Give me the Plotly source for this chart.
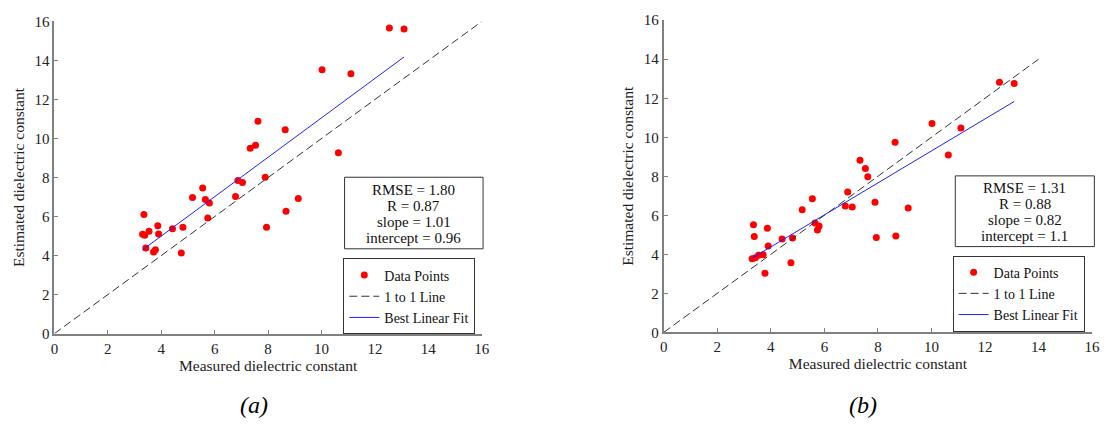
import plotly.graph_objects as go

# Measured dielectric constant (shared by both panels)
measured = [3.30, 3.35, 3.38, 3.42, 3.54, 3.71, 3.78, 3.87, 3.90, 4.42, 4.75,
            4.81, 5.17, 5.55, 5.65, 5.74, 5.80, 6.78, 6.87, 7.04, 7.33, 7.53,
            7.62, 7.89, 7.94, 8.64, 8.67, 9.13, 10.02, 10.63, 11.10, 12.54, 13.09]

# Estimated dielectric constant, panel (a)
estimated_a = [5.09, 6.11, 5.04, 4.39, 5.25, 4.18, 4.30, 5.53, 5.10, 5.37, 4.13,
               5.45, 6.98, 7.46, 6.88, 5.93, 6.70, 7.03, 7.85, 7.74, 9.50, 9.66,
               10.88, 8.02, 5.45, 10.45, 6.27, 6.93, 13.53, 9.27, 13.32, 15.67, 15.62]

# Estimated dielectric constant, panel (b)
estimated_b = [3.77, 5.52, 4.91, 3.82, 3.95, 3.98, 3.03, 5.33, 4.43, 4.78, 3.56,
               4.84, 6.29, 6.85, 5.60, 5.25, 5.45, 6.47, 7.19, 6.42, 8.82, 8.40,
               7.98, 6.67, 4.86, 9.75, 4.94, 6.37, 10.70, 9.09, 10.47, 12.82, 12.76]

# Statistics for each panel
stats_a = {"rmse": "1.80", "r": "0.87", "slope": 1.01, "intercept": 0.96}
stats_b = {"rmse": "1.31", "r": "0.88", "slope": 0.82, "intercept": 1.1}

# Extent of the 1:1 reference line in each panel
one_to_one_a = [0, 16]
one_to_one_b = [0, 14]

tick_values = [0, 2, 4, 6, 8, 10, 12, 14, 16]

FONT = "Liberation Serif"
W, H = 1109, 435


def px_x(p):
    return p / W


def px_y(p):
    return 1 - p / H


fig = go.Figure()


def add_panel(est, stats, line_ext, xa, ya, legend_name):
    fit_x = [min(measured), max(measured)]
    fit_y = [stats["slope"] * v + stats["intercept"] for v in fit_x]
    fig.add_trace(go.Scatter(
        x=measured, y=est, mode="markers", name="Data Points",
        marker=dict(color="#ff0000", size=7, line=dict(width=0)),
        xaxis=xa, yaxis=ya, legend=legend_name))
    fig.add_trace(go.Scatter(
        x=line_ext, y=line_ext, mode="lines", name="1 to 1 Line",
        line=dict(color="#333333", width=1, dash="8px,4px"),
        xaxis=xa, yaxis=ya, legend=legend_name))
    fig.add_trace(go.Scatter(
        x=fit_x, y=fit_y, mode="lines", name="Best Linear Fit",
        line=dict(color="#2020ff", width=1),
        xaxis=xa, yaxis=ya, legend=legend_name))


add_panel(estimated_a, stats_a, one_to_one_a, "x", "y", "legend")
add_panel(estimated_b, stats_b, one_to_one_b, "x2", "y2", "legend2")

axis_common = dict(
    range=[0, 16], tickvals=tick_values, ticks="inside", ticklen=4,
    tickcolor="#808080", tickwidth=1, showline=True, linecolor="#808080",
    linewidth=2, showgrid=False, zeroline=False, mirror=False,
    tickfont=dict(family=FONT, size=15, color="#222222"),
)

title_font = dict(family=FONT, size=15.5, color="#222222")

legend_common = dict(
    xanchor="left", yanchor="top", bordercolor="#333333", borderwidth=1,
    bgcolor="white", font=dict(family=FONT, size=14, color="#111111"),
    tracegroupgap=0, itemwidth=30,
)

fig.update_layout(
    width=W, height=H, margin=dict(l=0, r=0, t=0, b=0),
    paper_bgcolor="white", plot_bgcolor="white",
    xaxis=dict(axis_common, domain=[px_x(51), px_x(483)], anchor="y",
               title=dict(text="Measured dielectric constant", font=title_font, standoff=3)),
    yaxis=dict(axis_common, domain=[px_y(338), px_y(14)], anchor="x",
               title=dict(text="Estimated dielectric constant", font=title_font, standoff=6)),
    xaxis2=dict(axis_common, domain=[px_x(667), px_x(1100)], anchor="y2",
                title=dict(text="Measured dielectric constant", font=title_font, standoff=3)),
    yaxis2=dict(axis_common, domain=[px_y(336.7), px_y(12.7)], anchor="x2",
                title=dict(text="Estimated dielectric constant", font=title_font, standoff=6)),
    legend=dict(legend_common, x=px_x(343), y=px_y(260)),
    legend2=dict(legend_common, x=px_x(959), y=px_y(257)),
    showlegend=True,
)


def stats_lines(s):
    return [f"RMSE = {s['rmse']}", f"R = {s['r']}",
            f"slope = {s['slope']:.2f}", f"intercept = {s['intercept']:g}"]


# Statistics boxes: (stats, box left, box right, box top, box bottom, first line y)
stat_boxes = [
    (stats_a, 344.3, 484.3, 175.7, 250.0, 189.0),
    (stats_b, 961.7, 1102.3, 174.3, 247.7, 187.0),
]
line_step = 16.7

for s, x0, x1, y0, y1, first in stat_boxes:
    fig.add_shape(type="rect", xref="paper", yref="paper",
                  x0=px_x(x0), x1=px_x(x1), y0=px_y(y1), y1=px_y(y0),
                  line=dict(color="#333333", width=1), fillcolor="white",
                  layer="above")
    for i, txt in enumerate(stats_lines(s)):
        fig.add_annotation(
            x=px_x((x0 + x1) / 2), y=px_y(first + i * line_step),
            xref="paper", yref="paper", xanchor="center", yanchor="middle",
            text=txt, showarrow=False,
            font=dict(family=FONT, size=15, color="#111111"))

for label, cx in [("(a)", 253), ("(b)", 868)]:
    fig.add_annotation(
        x=px_x(cx), y=px_y(412), xref="paper", yref="paper",
        xanchor="center", yanchor="middle",
        text=f"<i>{label}</i>", showarrow=False,
        font=dict(family=FONT, size=24, color="#000000"))

fig.write_html("out.html")
